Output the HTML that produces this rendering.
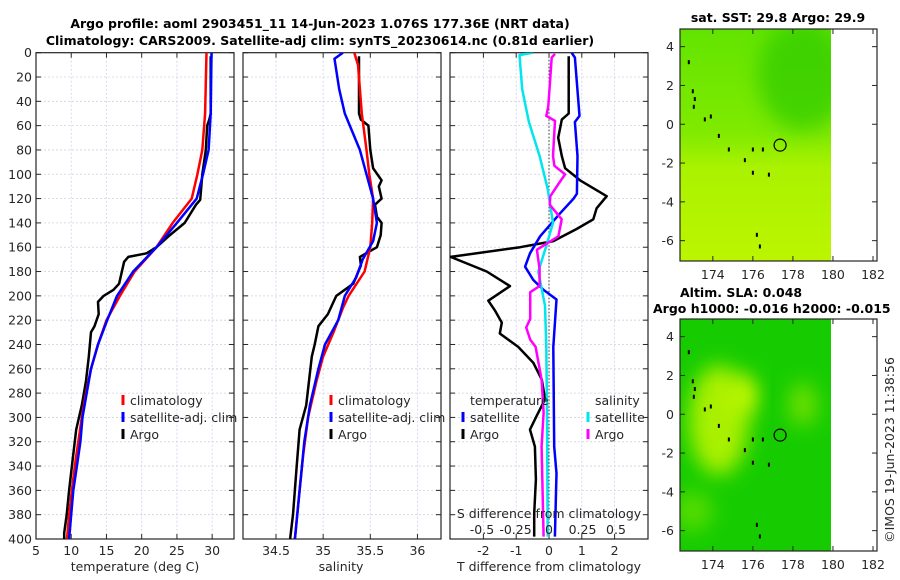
<!DOCTYPE html>
<html><head><meta charset="utf-8"><style>
html,body{margin:0;padding:0;background:#fff;}
svg{display:block;font-family:"DejaVu Sans","Liberation Sans",sans-serif;}
.tk{font-size:12.5px;fill:#262626;}
.tt{font-size:12.5px;font-weight:bold;fill:#000;}
</style></head><body>
<svg id="chart" width="900" height="580" viewBox="0 0 900 580" xmlns="http://www.w3.org/2000/svg">
<defs>
<filter id="blur8" x="-50%" y="-50%" width="200%" height="200%"><feGaussianBlur stdDeviation="10"/></filter>
<clipPath id="clipT"><rect x="36" y="52.7" width="198" height="486.3"/></clipPath>
<clipPath id="clipS"><rect x="243" y="52.7" width="198" height="486.3"/></clipPath>
<clipPath id="clipD"><rect x="450" y="52.7" width="198" height="486.3"/></clipPath>
<clipPath id="clipM1"><rect x="680" y="29" width="151" height="232"/></clipPath>
<clipPath id="clipM2"><rect x="680" y="319" width="151" height="232"/></clipPath>
<linearGradient id="sstg" x1="0" y1="0" x2="0" y2="1">
<stop offset="0" stop-color="#62e400"/><stop offset="0.45" stop-color="#80ea00"/><stop offset="0.6" stop-color="#aaf200"/><stop offset="1" stop-color="#bcf500"/></linearGradient>
</defs>
<text class="tt" x="320" y="28" text-anchor="middle">Argo profile: aoml 2903451_11 14-Jun-2023 1.076S 177.36E (NRT data)</text>
<text class="tt" x="320" y="45" text-anchor="middle">Climatology: CARS2009. Satellite-adj clim: synTS_20230614.nc (0.81d earlier)</text>
<g id="g1"></g>
<g id="g2"></g>
<g id="g3"></g>
<g id="maps"></g>
<text class="tk" transform="translate(894,450) rotate(-90)" text-anchor="middle">©IMOS 19-Jun-2023 11:38:56</text>
</svg>
<script>
// ---- data ----
const depthTicks=[0,20,40,60,80,100,120,140,160,180,200,220,240,260,280,300,320,340,360,380,400];
const tempTicks=[5,10,15,20,25,30];
const salTicks=[34.5,35,35.5,36];
const tdiffTicks=[-2,-1,0,1,2];
const sdiffTicks=[-0.5,-0.25,0,0.25,0.5];
const sdiffLabels=["-0.5","-0.25","0","0.25","0.5"];
const tClim=[[0,29.2],[50,29.0],[80,28.6],[100,27.9],[120,27.1],[140,24.4],[160,22.1],[180,19.0],[200,16.9],[220,15.0],[240,13.8],[260,12.8],[280,12.1],[300,11.5],[320,11.0],[340,10.5],[360,10.1],[380,9.7],[400,9.4]];
const tSat=[[0,29.9],[50,29.8],[80,29.5],[100,28.7],[120,27.8],[140,25.0],[160,22.1],[180,18.8],[200,16.5],[220,15.1],[240,13.8],[260,12.8],[280,12.2],[300,11.6],[320,11.3],[340,10.8],[360,10.3],[380,10.0],[400,9.7]];
const tArgo=[[3,29.8],[50,29.8],[55,29.6],[60,29.3],[80,29.1],[100,28.6],[121,28.3],[125,27.7],[140,26.1],[150,24.0],[160,22.1],[165,20.7],[168,18.1],[172,17.5],[190,16.8],[195,16.0],[200,14.6],[205,13.8],[215,13.9],[225,13.3],[230,12.8],[250,12.5],[270,12.1],[290,11.5],[300,11.1],[310,10.7],[340,10.1],[360,9.7],[380,9.35],[395,9.0],[400,9.0]];
const sClim=[[0,35.33],[10,35.37],[50,35.41],[80,35.46],[100,35.49],[120,35.53],[140,35.52],[160,35.50],[180,35.44],[200,35.27],[210,35.21],[230,35.11],[250,35.0],[270,34.93],[300,34.84],[330,34.79],[360,34.75],[400,34.70]];
const sSat=[[0,35.21],[5,35.12],[30,35.17],[50,35.23],[80,35.39],[100,35.46],[120,35.53],[140,35.57],[155,35.53],[170,35.42],[185,35.35],[200,35.23],[220,35.16],[240,35.02],[260,34.95],[290,34.86],[320,34.80],[360,34.75],[400,34.70]];
const sArgo=[[3,35.38],[50,35.38],[55,35.40],[60,35.48],[80,35.50],[95,35.53],[105,35.62],[110,35.59],[120,35.62],[125,35.55],[135,35.57],[140,35.62],[150,35.61],[160,35.57],[168,35.39],[175,35.40],[190,35.32],[200,35.14],[205,35.11],[215,35.05],[225,34.95],[240,34.91],[250,34.88],[290,34.82],[310,34.75],[340,34.72],[380,34.68],[400,34.65]];
const dtArgo=[[3,0.6],[50,0.6],[55,0.39],[70,0.28],[85,0.39],[95,0.49],[105,0.95],[118,1.76],[128,1.45],[137,1.35],[145,0.84],[155,0.13],[160,-0.88],[168,-3.0],[180,-1.9],[192,-1.19],[204,-1.85],[212,-1.65],[222,-1.44],[231,-1.5],[242,-0.94],[255,-0.48],[269,-0.22],[285,-0.12],[299,-0.38],[310,-0.58],[324,-0.43],[351,-0.4],[379,-0.45],[398,-0.45]];
const dtSat=[[0,0.69],[4,0.79],[52,0.93],[57,0.79],[85,0.87],[116,0.85],[120,0.75],[132,0.34],[151,-0.27],[165,-0.58],[176,-0.73],[187,-0.48],[195,-0.17],[203,0.23],[242,0.13],[324,0.16],[346,0.23],[398,0.18]];
const dsSat=[[0,-0.12],[2,-0.22],[30,-0.20],[57,-0.15],[85,-0.07],[112,-0.01],[140,0.03],[159,-0.02],[180,-0.08],[208,-0.03],[242,-0.02],[296,-0.015],[398,-0.01]];
const dsArgo=[[1,0.045],[4,0.02],[44,-0.005],[52,-0.02],[56,0.045],[85,0.03],[93,0.04],[100,0.12],[108,0.07],[118,0.01],[125,0.005],[137,0.095],[151,0.07],[162,-0.09],[178,-0.07],[192,-0.07],[197,-0.14],[219,-0.14],[226,-0.17],[236,-0.14],[242,-0.1],[269,-0.055],[296,-0.04],[324,-0.055],[398,-0.04]];
const lonTicks=[174,176,178,180,182];
const latTicks=[-6,-4,-2,0,2,4];
const argoPos=[177.36,-1.076];
const sstTitle="sat. SST: 29.8 Argo: 29.9";
const slaTitle="Altim. SLA: 0.048";
const hTitle="Argo h1000: -0.016 h2000: -0.015";

// ---- helpers ----
const NS="http://www.w3.org/2000/svg";
function mk(tag,attrs,parent){const e=document.createElementNS(NS,tag);for(const k in attrs)e.setAttribute(k,attrs[k]);parent.appendChild(e);return e;}
const Y0=52.7,YS=486.3/400;
const yD=d=>Y0+d*YS;
function xLin(a,b,px0,px1){return v=>px0+(v-a)/(b-a)*(px1-px0);}
const xT=xLin(5,33.1,36,234);
const xS=xLin(34.15,36.25,243,441);
const xDT=xLin(-3,3,450.6,647.4);
const xDS=v=>549+v*134;

function panel(g,x0,x1,xTicks,xf,labels,showY){
  const top=Y0,bot=Y0+486.3;
  for(const t of xTicks){const x=xf(t);
    const gl=mk('line',{x1:x,x2:x,y1:top,y2:bot,stroke:'#ccd2ee','stroke-width':0.8,'stroke-dasharray':'2,2'},g);
    }
  for(const d of depthTicks){const y=yD(d);
    const gl=mk('line',{x1:x0,x2:x1,y1:y,y2:y,stroke:'#d0d0e0','stroke-width':0.8,'stroke-dasharray':'2,2'},g);
    
    mk('line',{x1:x0,x2:x0+5,y1:y,y2:y,stroke:'#262626'},g);
    mk('line',{x1:x1,x2:x1-5,y1:y,y2:y,stroke:'#262626'},g);
    if(showY){const t=mk('text',{x:x0-4,y:y+4.5,'text-anchor':'end',class:'tk'},g);t.textContent=d;
      }}
  xTicks.forEach((t,i)=>{const x=xf(t);
    mk('line',{x1:x,x2:x,y1:bot,y2:bot-5,stroke:'#262626'},g);
    mk('line',{x1:x,x2:x,y1:top,y2:top+5,stroke:'#262626'},g);
    if(labels){const tx=mk('text',{x:x,y:555,'text-anchor':'middle',class:'tk'},g);tx.textContent=labels[i];
      }});
  const fr=mk('rect',{x:x0,y:top,width:x1-x0,height:486.3,fill:'none',stroke:'#262626','stroke-width':1.2},g);
  
}
function line(g,data,xf,color,name,clip){
  const p=mk('path',{d:data.map((p,i)=>(i?'L':'M')+xf(p[1]).toFixed(1)+','+yD(p[0]).toFixed(1)).join(''),fill:'none',stroke:color,'stroke-width':2.5,'stroke-linejoin':'round','clip-path':'url(#'+clip+')'},g);
  
}
function txt(g,x,y,s,name,anchor,cls){const t=mk('text',{x:x,y:y,'text-anchor':anchor||'start',class:cls||'tk'},g);t.textContent=s;
  return t;}
function legend(g,x,y,color,label,name){
  const m=mk('line',{x1:x,x2:x,y1:y-10,y2:y,stroke:color,'stroke-width':3},g);
  
  txt(g,x+7,y,label,name);
}

const g1=document.getElementById('g1');
panel(g1,36,234,tempTicks,xT,tempTicks.map(String),true);
line(g1,tArgo,xT,'#000','argo-temperature-line','clipT');
line(g1,tClim,xT,'#ff0000','climatology-temperature-line','clipT');
line(g1,tSat,xT,'#0000ff','satellite-temperature-line','clipT');
txt(g1,135,571,'temperature (deg C)','x-axis-title','middle');
legend(g1,123,405,'#ff0000','climatology','legend-climatology');
legend(g1,123,422,'#0000ff','satellite-adj. clim','legend-satellite');
legend(g1,123,439,'#000','Argo','legend-argo');

const g2=document.getElementById('g2');
panel(g2,243,441,salTicks,xS,['34.5','35','35.5','36'],false);
line(g2,sArgo,xS,'#000','argo-salinity-line','clipS');
line(g2,sClim,xS,'#ff0000','climatology-salinity-line','clipS');
line(g2,sSat,xS,'#0000ff','satellite-salinity-line','clipS');
txt(g2,341,571,'salinity','x-axis-title','middle');
legend(g2,331,405,'#ff0000','climatology','legend-climatology');
legend(g2,331,422,'#0000ff','satellite-adj. clim','legend-satellite');
legend(g2,331,439,'#000','Argo','legend-argo');

const g3=document.getElementById('g3');
panel(g3,450,648,tdiffTicks,xDT,tdiffTicks.map(String),false);
const zl=mk('line',{x1:xDT(0),x2:xDT(0),y1:Y0,y2:Y0+486.3,stroke:'#333','stroke-width':1,'stroke-dasharray':'1.5,2'},g3);

line(g3,dtArgo,xDT,'#000','argo-temperature-diff-line','clipD');
line(g3,dtSat,xDT,'#0000ff','satellite-temperature-diff-line','clipD');
line(g3,dsSat,xDS,'#00e5ee','satellite-salinity-diff-line','clipD');
line(g3,dsArgo,xDS,'#ff00ff','argo-salinity-diff-line','clipD');
txt(g3,549,571,'T difference from climatology','x-axis-title','middle');
txt(g3,549,518,'S difference from climatology','s-axis-title','middle');
sdiffTicks.forEach((s,i)=>txt(g3,xDS(s),534,sdiffLabels[i],'s-tick-label','middle'));
txt(g3,470,405,'temperature','legend-temperature-heading');
legend(g3,463,422,'#0000ff','satellite','legend-t-satellite');
legend(g3,463,439,'#000','Argo','legend-t-argo');
txt(g3,595,405,'salinity','legend-salinity-heading');
legend(g3,588,422,'#00e5ee','satellite','legend-s-satellite');
legend(g3,588,439,'#ff00ff','Argo','legend-s-argo');

const gm=document.getElementById('maps');
const mxf=xLin(172.36,182.2,680,877);
function mapAxes(top,kind){
  const myf=v=>top+(4.91-v)*19.4;
  const clip=kind==='sst'?'clipM1':'clipM2';
  const bg=mk('g',{'clip-path':'url(#'+clip+')'},gm);
  
  const x0=680,w=mxf(180)-680;
  if(kind==='sst'){
    mk('rect',{x:x0,y:top,width:w,height:232,fill:'url(#sstg)'},bg);
    mk('ellipse',{cx:mxf(178.5),cy:myf(2.5),rx:45,ry:55,fill:'#33cc00',opacity:0.75,filter:'url(#blur8)'},bg);
  }else{
    mk('rect',{x:x0,y:top,width:w,height:232,fill:'#16cc00'},bg);
    mk('ellipse',{cx:mxf(174.3),cy:myf(-0.3),rx:30,ry:55,fill:'#a8f000',filter:'url(#blur8)'},bg);
    mk('ellipse',{cx:mxf(175.5),cy:myf(1),rx:14,ry:20,fill:'#c4f800',filter:'url(#blur8)'},bg);
    mk('ellipse',{cx:mxf(178.5),cy:myf(0.5),rx:14,ry:22,fill:'#6ee000',filter:'url(#blur8)'},bg);
    mk('ellipse',{cx:mxf(173),cy:myf(-5),rx:20,ry:20,fill:'#55dc00',filter:'url(#blur8)'},bg);
  }
  const isl=[[172.8,3.2],[173.0,1.7],[173.1,1.3],[173.05,0.9],[173.6,0.25],[173.9,0.4],[174.3,-0.6],[174.8,-1.3],[175.6,-1.85],[176.0,-1.3],[176.5,-1.3],[176.0,-2.5],[176.8,-2.6],[176.2,-5.7],[176.35,-6.3]];
  isl.forEach(p=>{const r=mk('rect',{x:mxf(p[0])-1,y:myf(p[1])-2,width:2,height:4,fill:'#000'},gm);
    });
  const c=mk('circle',{cx:mxf(argoPos[0]),cy:myf(argoPos[1]),r:6,fill:'none',stroke:'#000','stroke-width':1.2},gm);
  
  lonTicks.forEach(l=>{const x=mxf(l);mk('line',{x1:x,x2:x,y1:top+232,y2:top+227,stroke:'#262626'},gm);mk('line',{x1:x,x2:x,y1:top,y2:top+5,stroke:'#262626'},gm);
    txt(gm,x,top+250,String(l),'lon-tick-label','middle');});
  latTicks.forEach(l=>{const y=myf(l);mk('line',{x1:680,x2:685,y1:y,y2:y,stroke:'#262626'},gm);mk('line',{x1:877,x2:872,y1:y,y2:y,stroke:'#262626'},gm);
    txt(gm,674,y+4.5,String(l),'lat-tick-label','end');});
  const fr=mk('rect',{x:680,y:top,width:197,height:232,fill:'none',stroke:'#262626','stroke-width':1.2},gm);
  
}
mapAxes(29,'sst');
mapAxes(319,'sla');
txt(gm,778,22,sstTitle,'sst-map-title','middle','tt');
txt(gm,680,297,slaTitle,'sla-map-title','start','tt');
txt(gm,653,313,hTitle,'steric-height-title','start','tt');
</script>
</body></html>
